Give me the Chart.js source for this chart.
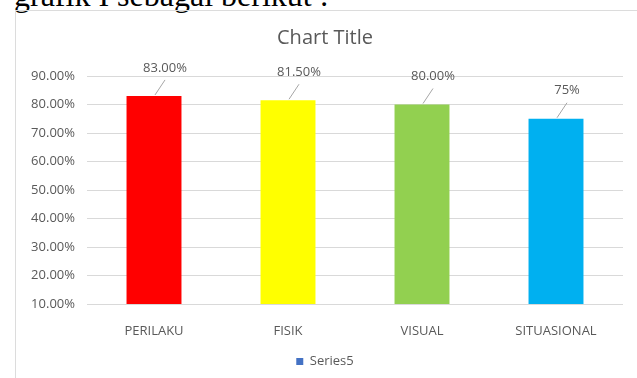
<!DOCTYPE html>
<html>
<head>
<meta charset="utf-8">
<script src="https://cdn.jsdelivr.net/npm/chart.js@4.4.1/dist/chart.umd.min.js"></script>
<style>
  html, body { margin: 0; padding: 0; background: #fff; }
  body { width: 637px; height: 378px; position: relative; overflow: hidden; }
  #lead {
    position: absolute; left: 14px; top: -21px;
    font: 32px "Liberation Serif", "Times New Roman", serif;
    line-height: 32px; color: #000; white-space: nowrap;
  }
  #frame {
    position: absolute; left: 15px; top: 10px; width: 640px; height: 400px;
    border-top: 1px solid #dcdcdc; border-left: 1px solid #dcdcdc;
  }
  #chart { position: absolute; left: 0; top: 0; }
</style>
</head>
<body>
<div id="lead">grafik I sebagai berikut :</div>
<div id="frame"></div>
<canvas id="chart" width="637" height="378"></canvas>
<script>
/* =========================
   DATA
========================= */
const categories = ["PERILAKU", "FISIK", "VISUAL", "SITUASIONAL"];
const values = [83.0, 81.5, 80.0, 75.0];
const valueLabels = ["83.00%", "81.50%", "80.00%", "75%"];
const barColors = ["#FF0000", "#FFFF00", "#92D050", "#00B0F0"];
const seriesName = "Series5";

const FONT = "'Open Sans', 'Liberation Sans', sans-serif";
const TEXT = "#595959";

// data labels with leader lines, drawn off the bar elements
const leaderLabels = {
  id: "leaderLabels",
  afterDatasetsDraw(chart) {
    const ctx = chart.ctx;
    const meta = chart.getDatasetMeta(0);
    ctx.save();
    ctx.font = "13px " + FONT;
    ctx.fillStyle = TEXT;
    ctx.textAlign = "center";
    ctx.textBaseline = "middle";
    ctx.strokeStyle = "#a6a6a6";
    ctx.lineWidth = 1;
    meta.data.forEach((bar, i) => {
      ctx.beginPath();
      ctx.moveTo(bar.x + 1, bar.y - 1);
      ctx.lineTo(bar.x + 11, bar.y - 16);
      ctx.stroke();
      ctx.fillText(valueLabels[i], bar.x + 11, bar.y - 28);
    });
    ctx.restore();
  }
};

new Chart(document.getElementById("chart"), {
  type: "bar",
  data: {
    labels: categories,
    datasets: [{
      label: seriesName,
      data: values,
      backgroundColor: barColors,
      borderWidth: 0,
      barPercentage: 0.41,
      categoryPercentage: 1
    }]
  },
  options: {
    responsive: false,
    devicePixelRatio: 1,
    animation: false,
    layout: { padding: { left: 27, right: 14, top: 0, bottom: 0 } },
    plugins: {
      title: {
        display: true,
        text: "Chart Title",
        color: TEXT,
        font: { family: FONT, size: 20, weight: "normal", lineHeight: 1.2 },
        padding: { top: 26, bottom: 26 }
      },
      legend: {
        position: "bottom",
        labels: {
          color: TEXT,
          font: { family: FONT, size: 13 },
          boxWidth: 7,
          boxHeight: 7,
          padding: 10,
          generateLabels: () => [{
            text: seriesName,
            fillStyle: "#4472C4",
            strokeStyle: "#4472C4",
            lineWidth: 0,
            fontColor: TEXT
          }]
        }
      },
      tooltip: { enabled: false }
    },
    scales: {
      x: {
        grid: { display: false },
        border: { display: false },
        ticks: { color: TEXT, font: { family: FONT, size: 13 }, padding: 11 },
        afterFit: s => { s.height = 41; }
      },
      y: {
        min: 10,
        max: 90,
        grid: { color: "#d9d9d9", drawTicks: false },
        border: { display: false },
        ticks: {
          stepSize: 10,
          color: TEXT,
          font: { family: FONT, size: 13 },
          padding: 12,
          callback: v => v.toFixed(2) + "%"
        },
        afterFit: s => { s.width = 60; }
      }
    }
  },
  plugins: [leaderLabels]
});
</script>
</body>
</html>
